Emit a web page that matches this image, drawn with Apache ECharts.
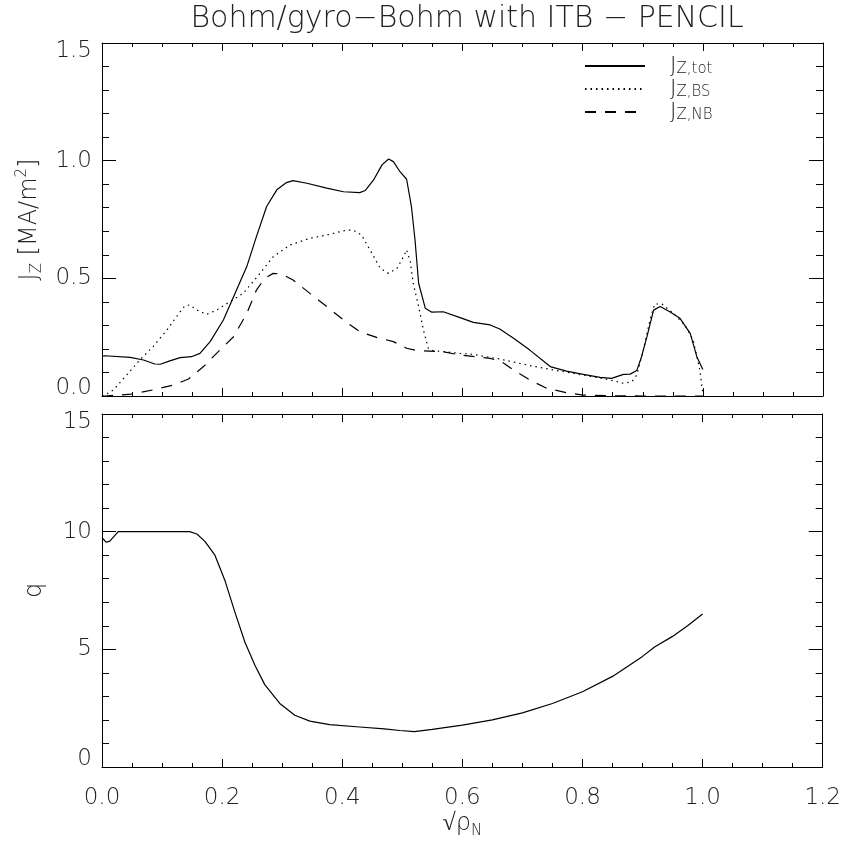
<!doctype html>
<html>
<head>
<meta charset="utf-8">
<title>Bohm/gyro-Bohm with ITB - PENCIL</title>
<script src="https://cdn.jsdelivr.net/npm/echarts@6/dist/echarts.min.js"></script>
<style>
  html, body { margin: 0; padding: 0; background: #fff; }
  #main { width: 844px; height: 843px; }
</style>
</head>
<body>
<div id="main"></div>
<script type="text/javascript">
// x = sqrt(rho_N)
var jTot = [[0.000,0.170],[0.005,0.171],[0.047,0.164],[0.069,0.153],[0.088,0.136],[0.097,0.135],[0.113,0.149],[0.130,0.163],[0.149,0.167],[0.163,0.181],[0.180,0.231],[0.202,0.323],[0.219,0.422],[0.241,0.550],[0.257,0.677],[0.274,0.805],[0.291,0.876],[0.307,0.907],[0.318,0.915],[0.341,0.904],[0.374,0.883],[0.402,0.868],[0.429,0.864],[0.438,0.873],[0.452,0.918],[0.466,0.982],[0.477,1.007],[0.485,0.996],[0.496,0.953],[0.507,0.921],[0.515,0.805],[0.521,0.663],[0.527,0.479],[0.538,0.373],[0.549,0.356],[0.568,0.358],[0.596,0.333],[0.618,0.313],[0.646,0.302],[0.662,0.285],[0.685,0.245],[0.712,0.195],[0.746,0.125],[0.773,0.106],[0.801,0.092],[0.829,0.079],[0.848,0.075],[0.868,0.092],[0.879,0.093],[0.890,0.108],[0.898,0.167],[0.907,0.252],[0.918,0.365],[0.929,0.380],[0.945,0.358],[0.962,0.330],[0.979,0.266],[0.990,0.167],[1.000,0.113]];

var jBS = [[0.000,0.000],[0.005,0.004],[0.019,0.026],[0.041,0.089],[0.063,0.153],[0.085,0.210],[0.108,0.280],[0.124,0.337],[0.138,0.384],[0.146,0.387],[0.158,0.365],[0.174,0.347],[0.191,0.365],[0.213,0.401],[0.235,0.436],[0.263,0.521],[0.285,0.592],[0.313,0.642],[0.346,0.670],[0.374,0.684],[0.407,0.705],[0.418,0.705],[0.432,0.684],[0.446,0.621],[0.463,0.543],[0.477,0.521],[0.491,0.543],[0.502,0.592],[0.507,0.621],[0.513,0.571],[0.518,0.479],[0.527,0.380],[0.535,0.280],[0.543,0.203],[0.551,0.193],[0.596,0.181],[0.618,0.177],[0.662,0.157],[0.707,0.132],[0.746,0.113],[0.785,0.096],[0.823,0.079],[0.851,0.065],[0.868,0.054],[0.882,0.061],[0.890,0.089],[0.901,0.195],[0.912,0.323],[0.920,0.391],[0.932,0.391],[0.951,0.351],[0.970,0.302],[0.984,0.238],[0.995,0.110],[1.000,0.010]];

var jNB = [[0.000,0.000],[0.005,0.000],[0.049,0.008],[0.085,0.026],[0.119,0.047],[0.144,0.072],[0.169,0.125],[0.196,0.195],[0.219,0.252],[0.241,0.351],[0.257,0.450],[0.271,0.500],[0.285,0.521],[0.299,0.518],[0.318,0.493],[0.346,0.436],[0.374,0.380],[0.402,0.323],[0.429,0.273],[0.457,0.249],[0.485,0.231],[0.507,0.203],[0.524,0.193],[0.568,0.188],[0.596,0.174],[0.646,0.160],[0.665,0.146],[0.685,0.110],[0.712,0.068],[0.740,0.033],[0.773,0.014],[0.801,0.004],[0.850,0.001],[0.900,0.000],[1.000,0.000]];

var qProfile = [[0.000,9.75],[0.007,9.55],[0.013,9.60],[0.027,10.0],[0.047,10.0],[0.100,10.0],[0.146,10.0],[0.158,9.90],[0.171,9.60],[0.188,9.00],[0.205,7.90],[0.221,6.60],[0.238,5.30],[0.255,4.30],[0.271,3.50],[0.296,2.70],[0.321,2.20],[0.346,1.95],[0.379,1.80],[0.429,1.70],[0.470,1.62],[0.496,1.55],[0.520,1.50],[0.550,1.60],[0.600,1.78],[0.650,2.00],[0.700,2.30],[0.750,2.70],[0.800,3.20],[0.850,3.85],[0.900,4.70],[0.920,5.10],[0.950,5.55],[0.975,6.00],[1.000,6.50]];

var seriesNames = ['J_Z,tot', 'J_Z,BS', 'J_Z,NB'];

var FONT = 'DejaVu Sans';
var INK = '#000';
var TXT = '#222';

var myChart = echarts.init(document.getElementById('main'));

function xAxisFor(grid, pos, labels) {
    return {
        type: 'value', gridIndex: grid, position: pos,
        min: 0, max: 1.2, interval: 0.2,
        axisLine: { onZero: false, lineStyle: { color: INK, width: 1 } },
        axisTick: { inside: true, length: 8, lineStyle: { color: INK } },
        minorTick: { show: true, splitNumber: 4, length: 4, lineStyle: { color: INK } },
        splitLine: { show: false },
        axisLabel: {
            show: labels, margin: 20, color: TXT, fontFamily: FONT, fontWeight: 200, fontSize: 23,
            formatter: function(v) { return v.toFixed(1); }
        }
    };
}

function yAxisFor(grid, pos, max, step, labels, dec) {
    return {
        type: 'value', gridIndex: grid, position: pos,
        min: 0, max: max, interval: step,
        axisLine: { onZero: false, lineStyle: { color: INK, width: 1 } },
        axisTick: { inside: true, length: 14, lineStyle: { color: INK } },
        minorTick: { show: true, splitNumber: 5, length: 7, lineStyle: { color: INK } },
        splitLine: { show: false },
        axisLabel: {
            show: labels, margin: 10, color: TXT, fontFamily: FONT, fontWeight: 200, fontSize: 23,
            lineHeight: 16,
            verticalAlignMinLabel: 'bottom', verticalAlignMaxLabel: 'top',
            formatter: function(v) { return v.toFixed(dec); }
        }
    };
}

var xAxes = [
    xAxisFor(0, 'bottom', false),
    xAxisFor(0, 'top', false),
    xAxisFor(1, 'bottom', true),
    xAxisFor(1, 'top', false)
];
xAxes[2].name = '{t|√ρ}{s|N}';
xAxes[2].nameLocation = 'middle';
xAxes[2].nameGap = 42;
xAxes[2].nameTextStyle = {
    color: TXT, fontFamily: FONT, fontWeight: 200,
    rich: {
        t: { fontSize: 24, lineHeight: 30, fontFamily: FONT, fontWeight: 200, color: TXT },
        s: { fontSize: 15, lineHeight: 14, verticalAlign: 'bottom', fontFamily: FONT, fontWeight: 200, color: TXT }
    }
};

var yAxes = [
    yAxisFor(0, 'left', 1.5, 0.5, true, 1),
    yAxisFor(0, 'right', 1.5, 0.5, false, 1),
    yAxisFor(1, 'left', 15, 5, true, 0),
    yAxisFor(1, 'right', 15, 5, false, 0)
];
yAxes[0].name = '{t|J}{s|Z}{t| [MA/m}{p|2}{t|]}';
yAxes[0].nameLocation = 'middle';
yAxes[0].nameRotate = 90;
yAxes[0].nameGap = 55;
yAxes[0].nameTextStyle = {
    color: TXT,
    rich: {
        t: { fontSize: 24, lineHeight: 30, fontFamily: FONT, fontWeight: 200, color: TXT },
        s: { fontSize: 15, lineHeight: 14, verticalAlign: 'bottom', fontFamily: FONT, fontWeight: 200, color: TXT },
        p: { fontSize: 15, lineHeight: 12, verticalAlign: 'top', fontFamily: FONT, fontWeight: 200, color: TXT }
    }
};
yAxes[2].name = 'q';
yAxes[2].nameLocation = 'middle';
yAxes[2].nameRotate = 90;
yAxes[2].nameGap = 55;
yAxes[2].nameTextStyle = { color: TXT, fontFamily: FONT, fontWeight: 200, fontSize: 24 };

function lineSeries(name, data, xi, yi, dash) {
    return {
        name: name, type: 'line', data: data,
        xAxisIndex: xi, yAxisIndex: yi,
        symbol: 'none', smooth: false, silent: true,
        itemStyle: { color: INK },
        lineStyle: { color: INK, width: 1.2, type: dash }
    };
}

option = {
    animation: false,
    backgroundColor: '#fff',
    title: {
        text: 'Bohm/gyro−Bohm with ITB − PENCIL',
        left: 462, top: -1, textAlign: 'center',
        textStyle: { color: TXT, fontFamily: FONT, fontWeight: 200, fontSize: 30 }
    },
    legend: {
        orient: 'vertical', left: 579, top: 50,
        itemWidth: 60, itemHeight: 14, itemGap: 1,
        selectedMode: false,
        data: seriesNames,
        itemStyle: { opacity: 0 },
        formatter: function(name) { return '{t|J}{s|' + name.split('_')[1] + '}'; },
        textStyle: {
            rich: {
                t: { fontSize: 22, lineHeight: 22, padding: [0, 0, 0, 20], fontFamily: FONT, fontWeight: 200, color: TXT },
                s: { fontSize: 15, lineHeight: 12, verticalAlign: 'bottom', fontFamily: FONT, fontWeight: 200, color: TXT }
            }
        }
    },
    grid: [
        { left: 102, right: 21, top: 43, height: 353 },
        { left: 102, right: 21, top: 414, height: 353 }
    ],
    xAxis: xAxes,
    yAxis: yAxes,
    series: [
        lineSeries(seriesNames[0], jTot, 0, 0, 'solid'),
        lineSeries(seriesNames[1], jBS, 0, 0, [1.5, 4]),
        lineSeries(seriesNames[2], jNB, 0, 0, [11, 9]),
        lineSeries('q', qProfile, 2, 2, 'solid')
    ]
};

myChart.setOption(option);
</script>
</body>
</html>
